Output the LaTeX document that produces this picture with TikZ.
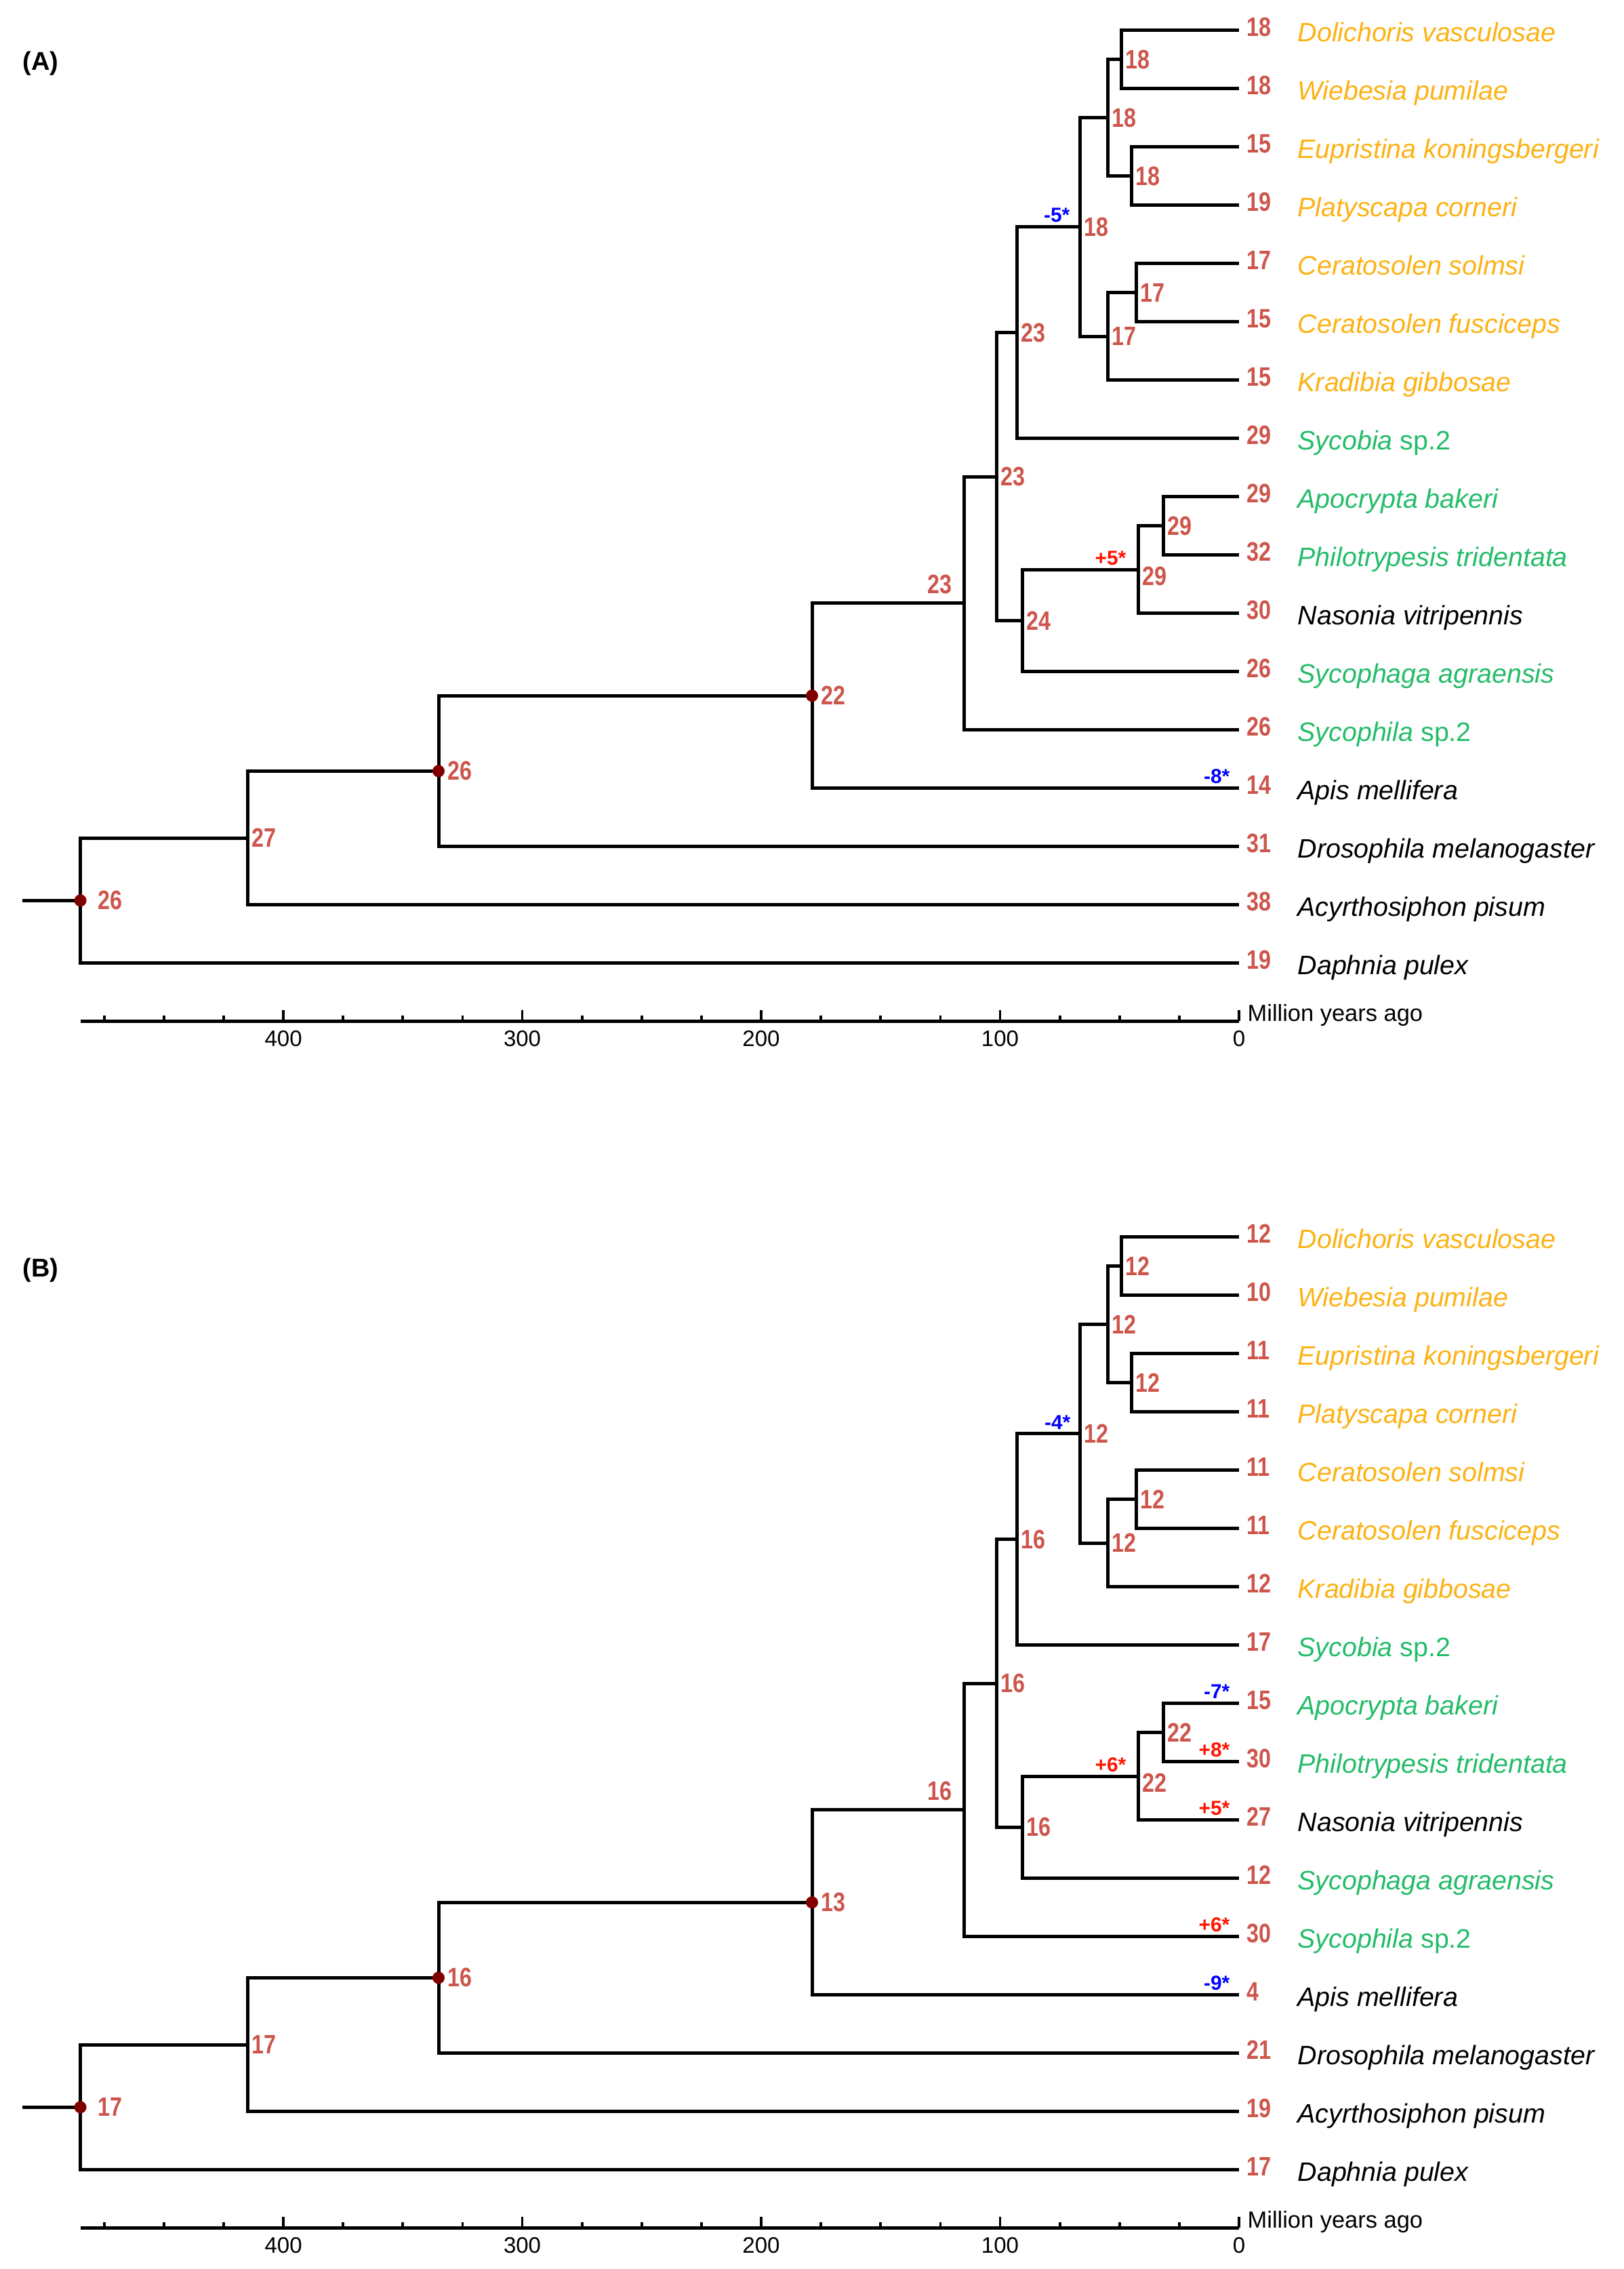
\documentclass[tikz,border=0pt]{standalone}
\usepackage{fontspec}
\setmainfont{Liberation Sans}
\newfontfamily\numfont{Liberation Sans}[FakeStretch=0.82]

\definecolor{numred}{RGB}{205,85,75}
\definecolor{figorange}{RGB}{252,178,20}
\definecolor{figgreen}{RGB}{35,188,105}
\definecolor{dotred}{RGB}{128,0,0}
\definecolor{gainred}{RGB}{255,20,0}
\definecolor{lossblue}{RGB}{0,0,255}

\tikzset{
  branch/.style={line width=0.05cm},
  tickline/.style={line width=0.037cm},
  num/.style={font={\numfont\bfseries\fontsize{11.2pt}{13pt}\selectfont}, text=numred, inner sep=0pt},
  leafnum/.style={num, anchor=base west, xshift=0.11cm, yshift=-0.09cm},
  nodenum/.style={num, anchor=west, xshift=0.06cm},
  dotnum/.style={num, anchor=west, xshift=0.13cm},
  rootnum/.style={num, anchor=west, xshift=0.25cm},
  abovenum/.style={num, anchor=base east, xshift=-0.17cm, yshift=0.14cm},
  species/.style={font={\itshape\fontsize{11.2pt}{13pt}\selectfont}, anchor=base west, inner sep=0pt, xshift=0.86cm, yshift=-0.17cm},
  change/.style={font={\bfseries\fontsize{8.5pt}{10pt}\selectfont}, anchor=south east, inner sep=0pt, xshift=-0.13cm, yshift=0.06cm},
  gain/.style={change, text=gainred},
  loss/.style={change, text=lossblue},
  ticklab/.style={font={\fontsize{9.4pt}{11pt}\selectfont}, anchor=north, inner sep=0pt, yshift=-0.14cm},
  axlab/.style={font={\fontsize{9.8pt}{12pt}\selectfont}, anchor=base west, inner sep=0pt, xshift=0.12cm},
  panellab/.style={font={\bfseries\fontsize{10.8pt}{13pt}\selectfont}, anchor=base west, inner sep=0pt},
  keydot/.style={fill=dotred}
}

% tree skeleton, one row per leaf
\newcommand{\drawtree}[1]{%
  \foreach \leaf [count=\i from 0] in {dol,wie,eup,pla,sol,fus,kra,syb,apo,phi,nas,syg,syl,api,dro,acy,dap}
    \coordinate (#1-\leaf) at (18.28,\i);
  \coordinate (#1-wd) at (16.54,0.5);
  \coordinate (#1-ep) at (16.69,2.5);
  \coordinate (#1-dp) at (16.34,1.5);
  \coordinate (#1-cs) at (16.76,4.5);
  \coordinate (#1-ck) at (16.34,5.25);
  \coordinate (#1-fg) at (15.93,3.375);
  \coordinate (#1-sy) at (15.00,5.1875);
  \coordinate (#1-ap) at (17.16,8.5);
  \coordinate (#1-an) at (16.79,9.25);
  \coordinate (#1-nf) at (15.08,10.125);
  \coordinate (#1-nb) at (14.70,7.65625);
  \coordinate (#1-na) at (14.22,9.828125);
  \coordinate (#1-hy) at (11.98,11.4140625);
  \coordinate (#1-in) at (6.47,12.70703125);
  \coordinate (#1-pa) at (3.65,13.853515625);
  \coordinate (#1-root) at (1.186,14.9267578125);
  \coordinate (#1-stub) at (0.33,14.9267578125);

  \draw[branch] (#1-dol) -| (#1-wd) |- (#1-wie);
  \draw[branch] (#1-eup) -| (#1-ep) |- (#1-pla);
  \draw[branch] (#1-wd) -| (#1-dp) |- (#1-ep);
  \draw[branch] (#1-sol) -| (#1-cs) |- (#1-fus);
  \draw[branch] (#1-cs) -| (#1-ck) |- (#1-kra);
  \draw[branch] (#1-dp) -| (#1-fg) |- (#1-ck);
  \draw[branch] (#1-fg) -| (#1-sy) |- (#1-syb);
  \draw[branch] (#1-apo) -| (#1-ap) |- (#1-phi);
  \draw[branch] (#1-ap) -| (#1-an) |- (#1-nas);
  \draw[branch] (#1-an) -| (#1-nf) |- (#1-syg);
  \draw[branch] (#1-sy) -| (#1-nb) |- (#1-nf);
  \draw[branch] (#1-nb) -| (#1-na) |- (#1-syl);
  \draw[branch] (#1-na) -| (#1-hy) |- (#1-api);
  \draw[branch] (#1-hy) -| (#1-in) |- (#1-dro);
  \draw[branch] (#1-in) -| (#1-pa) |- (#1-acy);
  \draw[branch] (#1-pa) -| (#1-root) |- (#1-dap);
  \draw[branch] (#1-stub) -- (#1-root);

  \foreach \nd in {hy,in,root}
    \fill[keydot] (#1-\nd) circle (0.09cm);

  \foreach \leaf/\col/\txt in {dol/figorange/Dolichoris vasculosae, wie/figorange/Wiebesia pumilae,
      eup/figorange/Eupristina koningsbergeri, pla/figorange/Platyscapa corneri,
      sol/figorange/Ceratosolen solmsi, fus/figorange/Ceratosolen fusciceps,
      kra/figorange/Kradibia gibbosae, syb/figgreen/{Sycobia \upshape sp.2},
      apo/figgreen/Apocrypta bakeri, phi/figgreen/Philotrypesis tridentata,
      nas/black/Nasonia vitripennis, syg/figgreen/Sycophaga agraensis,
      syl/figgreen/{Sycophila \upshape sp.2}, api/black/Apis mellifera,
      dro/black/Drosophila melanogaster, acy/black/Acyrthosiphon pisum,
      dap/black/Daphnia pulex}
    \node[species, text=\col] (#1-\leaf-name) at (#1-\leaf) {\txt};
}

% time axis
\newcommand{\drawaxis}[1]{%
  \coordinate (#1-t0) at (18.28,0);
  \coordinate (#1-tend) at (1.186,0);
  \draw[branch] (#1-tend) -- (#1-t0);
  \foreach \t in {25,50,...,475}
    \draw[tickline] ({18.28-0.03525*\t},0) -- ++(0,0.08);
  \foreach \t in {0,100,...,400} {
    \draw[tickline] ({18.28-0.03525*\t},0) -- ++(0,0.16);
    \node[ticklab] (#1-tl\t) at ({18.28-0.03525*\t},0) {\t};
  }
  \node[axlab] (#1-axlab) at (#1-t0) {Million years ago};
}

\begin{document}
\begin{tikzpicture}
  \useasboundingbox (0,0) rectangle (23.96,-33.47);

  % (A)
  \node[panellab] (A-lab) at (0.33,-1.033) {(A)};
  \begin{scope}[yshift=-0.446cm, y=-0.86cm]
    \drawtree{A}
    \foreach \leaf/\v in {dol/18, wie/18, eup/15, pla/19, sol/17, fus/15, kra/15, syb/29, apo/29,
        phi/32, nas/30, syg/26, syl/26, api/14, dro/31, acy/38, dap/19}
      \node[leafnum] (A-\leaf-num) at (A-\leaf) {\v};
    \foreach \nd/\v in {wd/18, ep/18, dp/18, fg/18, cs/17, ck/17, sy/23, ap/29, nf/24, nb/23, pa/27}
      \node[nodenum] (A-\nd-num) at (A-\nd) {\v};
    \node[nodenum, yshift=-0.1cm] (A-an-num) at (A-an) {29};
    \node[abovenum] (A-na-num) at (A-na) {23};
    \node[dotnum] (A-hy-num) at (A-hy) {22};
    \node[dotnum] (A-in-num) at (A-in) {26};
    \node[rootnum] (A-root-num) at (A-root) {26};
    \node[loss, xshift=-0.01cm] (A-fg-chg) at (A-fg) {-5*};
    \node[gain, xshift=-0.04cm] (A-an-chg) at (A-an) {+5*};
    \node[loss] (A-api-chg) at (A-api) {-8*};
  \end{scope}
  \begin{scope}[yshift=-15.06cm]
    \drawaxis{A}
  \end{scope}

  % (B)
  \node[panellab] (B-lab) at (0.33,-18.833) {(B)};
  \begin{scope}[yshift=-18.246cm, y=-0.86cm]
    \drawtree{B}
    \foreach \leaf/\v in {dol/12, wie/10, eup/11, pla/11, sol/11, fus/11, kra/12, syb/17, apo/15,
        phi/30, nas/27, syg/12, syl/30, api/4, dro/21, acy/19, dap/17}
      \node[leafnum] (B-\leaf-num) at (B-\leaf) {\v};
    \foreach \nd/\v in {wd/12, ep/12, dp/12, fg/12, cs/12, ck/12, sy/16, ap/22, nf/16, nb/16, pa/17}
      \node[nodenum] (B-\nd-num) at (B-\nd) {\v};
    \node[nodenum, yshift=-0.1cm] (B-an-num) at (B-an) {22};
    \node[abovenum] (B-na-num) at (B-na) {16};
    \node[dotnum] (B-hy-num) at (B-hy) {13};
    \node[dotnum] (B-in-num) at (B-in) {16};
    \node[rootnum] (B-root-num) at (B-root) {17};
    \node[loss] (B-fg-chg) at (B-fg) {-4*};
    \node[gain, xshift=-0.04cm] (B-an-chg) at (B-an) {+6*};
    \node[loss] (B-apo-chg) at (B-apo) {-7*};
    \node[gain] (B-phi-chg) at (B-phi) {+8*};
    \node[gain] (B-nas-chg) at (B-nas) {+5*};
    \node[gain] (B-syl-chg) at (B-syl) {+6*};
    \node[loss] (B-api-chg) at (B-api) {-9*};
  \end{scope}
  \begin{scope}[yshift=-32.86cm]
    \drawaxis{B}
  \end{scope}
\end{tikzpicture}
\end{document}
